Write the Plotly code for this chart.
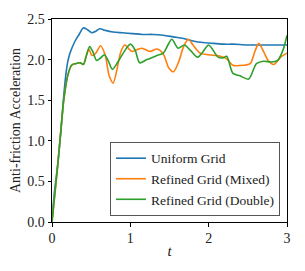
import plotly.graph_objects as go

# ---- data ----
t_uniform = [0, 0.03, 0.077, 0.11, 0.145, 0.175, 0.2, 0.23, 0.29, 0.34, 0.40, 0.45,
             0.51, 0.56, 0.61, 0.68, 0.78, 0.9, 1.03, 1.15, 1.29, 1.42, 1.55, 1.68,
             1.80, 1.93, 2.06, 2.2, 2.31, 2.5, 2.75, 3.0]
v_uniform = [0, 0.36, 0.74, 1.08, 1.5, 1.8, 1.97, 2.08, 2.22, 2.30, 2.39, 2.37,
             2.33, 2.35, 2.38, 2.36, 2.34, 2.33, 2.32, 2.31, 2.31, 2.30, 2.28, 2.26,
             2.23, 2.21, 2.20, 2.19, 2.19, 2.18, 2.18, 2.18]

t_mixed = [0, 0.04, 0.077, 0.12, 0.15, 0.2, 0.25, 0.3, 0.36, 0.40, 0.44, 0.47,
           0.51, 0.56, 0.62, 0.68, 0.73, 0.78, 0.83, 0.88, 0.93, 1.02, 1.08, 1.15,
           1.25, 1.34, 1.42, 1.49, 1.55, 1.62, 1.68, 1.74, 1.80, 1.89, 2.0, 2.15,
           2.23, 2.31, 2.44, 2.53, 2.59, 2.64, 2.70, 2.76, 2.83, 2.93, 3.0]
v_mixed = [0, 0.38, 0.74, 1.2, 1.5, 1.8, 1.93, 1.95, 1.96, 1.94, 2.06, 2.13,
           2.05, 2.08, 2.17, 2.05, 1.80, 1.71, 1.88, 2.10, 2.18, 2.10, 2.12, 2.14,
           2.10, 2.13, 2.07, 1.90, 1.85, 1.98, 2.16, 2.25, 2.18, 2.08, 2.06, 2.04,
           2.01, 1.93, 1.93, 1.95, 2.10, 2.20, 2.10, 1.99, 1.94, 2.04, 2.08]

t_double = [0, 0.04, 0.077, 0.12, 0.15, 0.2, 0.25, 0.3, 0.36, 0.40, 0.44, 0.48,
            0.52, 0.57, 0.62, 0.67, 0.72, 0.77, 0.84, 0.91, 1.0, 1.06, 1.12, 1.21,
            1.34, 1.42, 1.48, 1.53, 1.61, 1.69, 1.77, 1.86, 1.93, 2.0, 2.12, 2.18,
            2.23, 2.31, 2.40, 2.51, 2.61, 2.70, 2.80, 2.88, 2.95, 3.0]
v_double = [0, 0.38, 0.74, 1.2, 1.5, 1.8, 1.93, 1.95, 1.96, 1.94, 2.05, 2.16,
            2.10, 1.99, 2.02, 2.06, 1.98, 1.88, 1.97, 2.08, 2.19, 2.12, 1.96, 2.00,
            2.05, 2.08, 2.18, 2.25, 2.14, 2.18, 2.11, 2.03, 2.10, 2.18, 2.03, 2.02,
            2.04, 1.83, 1.80, 1.76, 1.95, 1.98, 1.97, 1.99, 2.12, 2.30]

names = ["Uniform Grid", "Refined Grid (Mixed)", "Refined Grid (Double)"]
colors = ["#1f77b4", "#ff7f0e", "#2ca02c"]
x_ticks = [0, 1, 2, 3]
y_ticks = [0.0, 0.5, 1.0, 1.5, 2.0, 2.5]

FONT = "Liberation Serif"

fig = go.Figure()
for t, v, n, c in zip([t_uniform, t_mixed, t_double],
                      [v_uniform, v_mixed, v_double], names, colors):
    fig.add_trace(go.Scatter(x=t, y=v, mode="lines", name=n,
                             line=dict(color=c, width=1.6, shape="spline", smoothing=0.8)))

axis_common = dict(showgrid=False, zeroline=False, showline=True, linecolor="black",
                   linewidth=1, mirror=True, ticks="outside", ticklen=3.5,
                   tickwidth=0.8, tickcolor="black", automargin=False,
                   tickfont=dict(family=FONT, size=14, color="#222"))

fig.update_xaxes(range=[0, 3], tickvals=x_ticks, ticktext=[str(v) for v in x_ticks],
                 title=dict(text="<i>t</i>", font=dict(family=FONT, size=15, color="#222"),
                            standoff=0), **axis_common)
fig.update_yaxes(range=[0, 2.5], tickvals=y_ticks, ticktext=[f"{v:.1f}" for v in y_ticks],
                 title=dict(text="Anti-friction Acceleration",
                            font=dict(family=FONT, size=14, color="#222"), standoff=4),
                 **axis_common)

fig.update_layout(
    width=297, height=263,
    margin=dict(l=44, r=18, t=11, b=49),
    paper_bgcolor="white", plot_bgcolor="white",
    legend=dict(x=0.97, y=0.03, xanchor="right", yanchor="bottom",
                bgcolor="rgba(255,255,255,0.85)", bordercolor="#555", borderwidth=1,
                font=dict(family=FONT, size=13.5, color="#222"),
                itemwidth=30, tracegroupgap=0),
)

fig.write_html("out.html")
